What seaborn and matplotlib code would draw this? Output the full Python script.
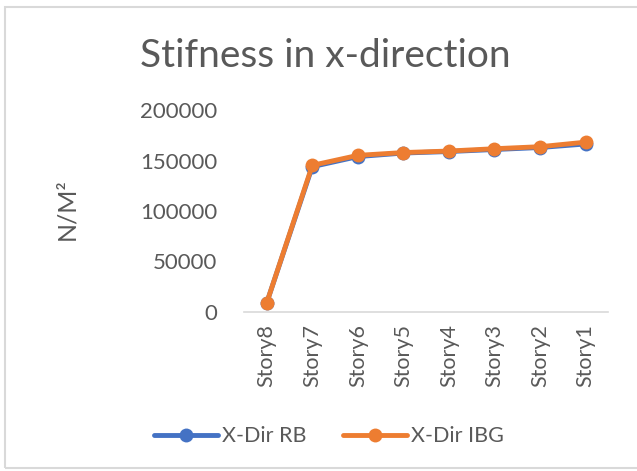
import pandas as pd
import matplotlib.pyplot as plt
import seaborn as sns
from matplotlib.patches import Rectangle

stories = ["Story8", "Story7", "Story6", "Story5", "Story4", "Story3", "Story2", "Story1"]
rb_values = [9000, 144000, 154000, 157500, 159000, 161000, 163000, 166500]
ibg_values = [9000, 145300, 155200, 158000, 159500, 161800, 163800, 168300]
series_names = ["X-Dir RB", "X-Dir IBG"]
y_ticks = [0, 50000, 100000, 150000, 200000]

df = pd.concat([
    pd.DataFrame({"Story": stories, "Stiffness": rb_values, "Series": series_names[0]}),
    pd.DataFrame({"Story": stories, "Stiffness": ibg_values, "Series": series_names[1]}),
])

sns.set_style("white")
plt.rcParams["font.family"] = ["Lato", "DejaVu Sans"]
text_col = "#595959"

fig = plt.figure(figsize=(6.37, 4.71), dpi=100)
ax = fig.add_axes([0.383, 0.338, 0.572, 0.428])

palette = {series_names[0]: "#4472C4", series_names[1]: "#ED7D31"}
sns.lineplot(data=df, x="Story", y="Stiffness", hue="Series", palette=palette,
             marker="o", markersize=10, markeredgewidth=0, linewidth=3.5,
             sort=False, ax=ax)

ax.set_ylim(0, 200000)
ax.set_yticks(y_ticks)
ax.set_yticklabels([str(v) for v in y_ticks])
ax.set_xlim(-0.5, 7.5)
ax.tick_params(axis="y", length=0, pad=19, labelsize=16, labelcolor=text_col)
ax.tick_params(axis="x", length=0, pad=9, labelsize=15.5, labelcolor=text_col, rotation=90)
for side in ["top", "right", "left"]:
    ax.spines[side].set_visible(False)
ax.spines["bottom"].set_color("#d9d9d9")
ax.spines["bottom"].set_linewidth(1.2)
ax.set_xlabel("")
ax.set_ylabel("")
fig.text(67 / 637, 1 - 209 / 471, "N/M²", rotation=90, ha="center", va="center",
         fontsize=18, color=text_col)

fig.text(0.511, 1 - 67 / 471, "Stifness in x-direction", ha="center", va="baseline",
         fontsize=28, color=text_col)

handles, labels = ax.get_legend_handles_labels()
ax.legend(handles, labels, loc="center", bbox_to_anchor=(0.516, 0.074),
          bbox_transform=fig.transFigure, ncol=2, frameon=False, fontsize=15.5,
          labelcolor=text_col, handlelength=3.0, handletextpad=0.15, columnspacing=1.7)

fig.patches.append(Rectangle((5 / 637, 3 / 471), 640 / 637, 461 / 471, transform=fig.transFigure,
                             fill=False, edgecolor="#d9d9d9", linewidth=1.5))

fig.savefig("out.png", dpi=100)
